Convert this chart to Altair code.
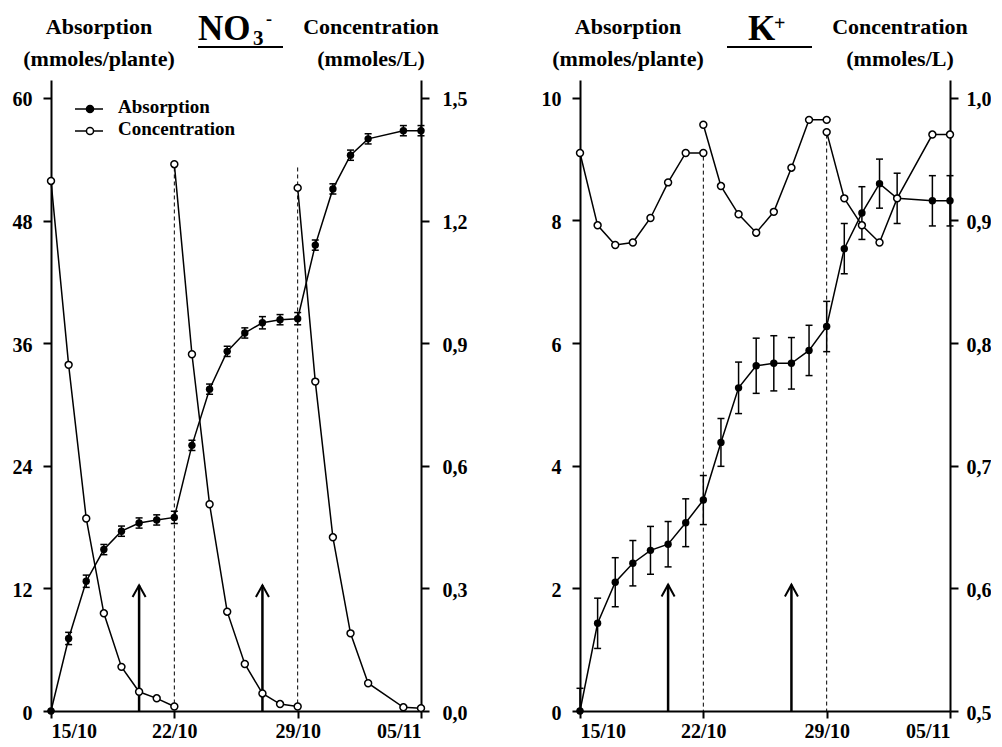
import altair as alt
import pandas as pd

FONT = "Liberation Serif"

# ---------------- data ----------------
days = [0, 1, 2, 3, 4, 5, 6, 7, 8, 9, 10, 11, 12, 13, 14, 15, 16, 17, 18, 20, 21]
date_tick_values = [0, 7, 14, 21]
date_tick_labels = ["15/10", "22/10", "29/10", "05/11"]

conc_days = [0, 1, 2, 3, 4, 5, 6, 7,
             7, 8, 9, 10, 11, 12, 13, 14,
             14, 15, 16, 17, 18, 20, 21]
conc_cycle = [1] * 8 + [2] * 8 + [3] * 7

no3_absorption = [0, 7.1, 12.7, 15.8, 17.6, 18.4, 18.7, 18.95, 26.0, 31.5, 35.2,
                  37.0, 38.0, 38.3, 38.4, 45.6, 51.1, 54.4, 56.0, 56.8, 56.8]
no3_abs_err = [0, 0.6, 0.6, 0.5, 0.5, 0.5, 0.5, 0.6, 0.5, 0.5, 0.5,
               0.5, 0.6, 0.5, 0.6, 0.5, 0.5, 0.5, 0.5, 0.5, 0.5]
no3_concentration = [1.297, 0.847, 0.471, 0.239, 0.108, 0.047, 0.031, 0.011,
                     1.338, 0.873, 0.506, 0.243, 0.115, 0.043, 0.017, 0.011,
                     1.28, 0.806, 0.425, 0.19, 0.068, 0.009, 0.007]

k_absorption = [0, 1.43, 2.10, 2.41, 2.62, 2.72, 3.07, 3.44, 4.38, 5.27, 5.63,
                5.67, 5.67, 5.88, 6.27, 7.54, 8.12, 8.60, 8.36, 8.32, 8.32]
k_abs_err = [0.37, 0.41, 0.40, 0.37, 0.39, 0.37, 0.39, 0.40, 0.39, 0.42, 0.45,
             0.45, 0.42, 0.41, 0.41, 0.41, 0.43, 0.40, 0.41, 0.41, 0.41]
k_concentration = [0.955, 0.896, 0.880, 0.882, 0.902, 0.931, 0.955, 0.955,
                   0.978, 0.928, 0.905, 0.890, 0.907, 0.943, 0.982, 0.982,
                   0.972, 0.918, 0.896, 0.882, 0.918, 0.970, 0.970]

renewal_days = [7, 14]
no3_renewal_top = [53.2, 53.2]
k_renewal_top = [9.04, 9.40]
arrow_days = [5, 12]
no3_arrow_top = [12.3, 12.3]
k_arrow_top = [2.06, 2.06]

no3_left_ticks = [0, 12, 24, 36, 48, 60]
no3_left_labels = ["0", "12", "24", "36", "48", "60"]
no3_right_ticks = [0.0, 0.3, 0.6, 0.9, 1.2, 1.5]
no3_right_labels = ["0,0", "0,3", "0,6", "0,9", "1,2", "1,5"]
k_left_ticks = [0, 2, 4, 6, 8, 10]
k_left_labels = ["0", "2", "4", "6", "8", "10"]
k_right_ticks = [0.5, 0.6, 0.7, 0.8, 0.9, 1.0]
k_right_labels = ["0,5", "0,6", "0,7", "0,8", "0,9", "1,0"]

W, H = 370, 631


def label_expr(values, labels):
    expr = "''"
    for v, l in reversed(list(zip(values, labels))):
        expr = f"abs(datum.value - {v}) < 1e-6 ? '{l}' : ({expr})"
    return expr


def panel(abs_vals, abs_err, conc_vals, left_dom, left_ticks, left_labels,
          right_dom, right_ticks, right_labels, renew_top, arrow_top,
          ion_layers, legend, right_pad):
    df_abs = pd.DataFrame({"day": days, "v": abs_vals, "e": abs_err})
    df_abs["lo"] = (df_abs["v"] - df_abs["e"]).clip(lower=left_dom[0])
    df_abs["hi"] = df_abs["v"] + df_abs["e"]
    df_conc = pd.DataFrame({"day": conc_days, "c": conc_vals, "cycle": conc_cycle})
    df_ren = pd.DataFrame({"day": renewal_days, "top": renew_top})
    df_arr = pd.DataFrame({"day": arrow_days, "top": arrow_top})

    xs = alt.Scale(domain=[0, 21], nice=False, zero=False)
    x_axis = alt.Axis(values=date_tick_values,
                      labelExpr=label_expr(date_tick_values, date_tick_labels),
                      title=None, tickSize=7, labelPadding=3, orient="bottom")
    X = lambda: alt.X("day:Q", scale=xs, axis=x_axis, title=None)
    ysL = alt.Scale(domain=left_dom, nice=False, zero=False)
    ysR = alt.Scale(domain=right_dom, nice=False, zero=False)
    left_axis = alt.Axis(values=left_ticks, labelExpr=label_expr(left_ticks, left_labels),
                         title=None, orient="left", tickSize=8, labelPadding=11,
                         labelOffset=2)
    right_axis = alt.Axis(values=right_ticks, labelExpr=label_expr(right_ticks, right_labels),
                          title=None, orient="right", tickSize=8, labelPadding=right_pad,
                          labelOffset=2)
    YL = lambda f: alt.Y(f, type="quantitative", scale=ysL, axis=left_axis, title=None)
    YR = lambda f: alt.Y(f, type="quantitative", scale=ysR, axis=right_axis, title=None)

    base0 = left_dom[0]
    dashed = alt.Chart(df_ren).mark_rule(color="black", strokeWidth=1,
                                         strokeDash=[4, 3]).encode(
        x=X(), y=YL("top"), y2=alt.datum(base0))
    arrows = alt.Chart(df_arr).mark_rule(color="black", strokeWidth=2.5).encode(
        x=X(), y=YL("top"), y2=alt.datum(base0))
    heads = alt.Chart(df_arr).mark_point(shape="M-1,1.8L0,0L1,1.8", filled=False,
                                         size=170, strokeWidth=2, color="black",
                                         opacity=1).encode(
        x=X(), y=YL("top"))
    err = alt.Chart(df_abs).mark_rule(color="black", strokeWidth=1.5).encode(
        x=X(), y=YL("lo"), y2="hi:Q")
    cap_hi = alt.Chart(df_abs).mark_rule(color="black", strokeWidth=1.5,
                                         xOffset=-3.5, x2Offset=3.5).encode(
        x=X(), x2="day:Q", y=YL("hi"))
    cap_lo = alt.Chart(df_abs).mark_rule(color="black", strokeWidth=1.5,
                                         xOffset=-3.5, x2Offset=3.5).encode(
        x=X(), x2="day:Q", y=YL("lo"))
    abs_line = alt.Chart(df_abs).mark_line(color="black", strokeWidth=1.5).encode(
        x=X(), y=YL("v"))
    abs_pts = alt.Chart(df_abs).mark_circle(color="black", size=55, opacity=1).encode(
        x=X(), y=YL("v"))
    left_group = alt.layer(dashed, arrows, heads, err, cap_hi, cap_lo, abs_line, abs_pts)

    conc_line = alt.Chart(df_conc).mark_line(color="black", strokeWidth=1.5).encode(
        x=X(), y=YR("c"), detail="cycle:N")
    conc_pts = alt.Chart(df_conc).mark_point(shape="circle", filled=True, fill="white",
                                             stroke="black", strokeWidth=1.5, size=48,
                                             opacity=1).encode(
        x=X(), y=YR("c"))
    right_group = alt.layer(conc_line, conc_pts)

    one = pd.DataFrame({"k": [0]})

    def txt(s, x, y, size, align="center", baseline="alphabetic"):
        return alt.Chart(one).mark_text(font=FONT, fontWeight="bold", fontSize=size,
                                        align=align, baseline=baseline,
                                        color="black").encode(
            x=alt.value(x), y=alt.value(y), text=alt.value(s))

    ann = [
        txt("Absorption", 48, -46, 22),
        txt("(mmoles/plante)", 48, -14, 22),
        txt("Concentration", 320, -46, 22),
        txt("(mmoles/L)", 320, -14, 22),
        alt.Chart(one).mark_rule(color="black", strokeWidth=2).encode(
            x=alt.value(147), x2=alt.value(232), y=alt.value(-33)),
    ]
    for (s, x, y, size) in ion_layers:
        ann.append(txt(s, x, y, size, align="left"))
    if legend:
        for yy, filled, label in [(29, True, "Absorption"), (51, False, "Concentration")]:
            ann.append(alt.Chart(one).mark_rule(color="black", strokeWidth=1.5).encode(
                x=alt.value(24), x2=alt.value(52), y=alt.value(yy)))
            ann.append(alt.Chart(one).mark_point(
                shape="circle", filled=True, fill="black" if filled else "white",
                stroke="black", strokeWidth=1.5, size=50, opacity=1).encode(
                x=alt.value(39), y=alt.value(yy)))
            ann.append(txt(label, 67, yy - 2, 19, align="left", baseline="middle"))

    return alt.layer(left_group, right_group, *ann).resolve_scale(
        y="independent").properties(width=W, height=H)


no3_ion = [("NO", 147, -40, 35), ("3", 202, -35, 21), ("-", 215, -55, 18)]
k_ion = [("K", 168, -40, 35), ("+", 194, -50, 20)]

left_panel = panel(no3_absorption, no3_abs_err, no3_concentration,
                   [0, 61.76], no3_left_ticks, no3_left_labels,
                   [0, 1.544], no3_right_ticks, no3_right_labels,
                   no3_renewal_top, no3_arrow_top, no3_ion, True, 13)
right_panel = panel(k_absorption, k_abs_err, k_concentration,
                    [0, 10.29], k_left_ticks, k_left_labels,
                    [0.5, 1.0145], k_right_ticks, k_right_labels,
                    k_renewal_top, k_arrow_top, k_ion, False, 8)

chart = alt.hconcat(left_panel, right_panel, spacing=74).properties(
    padding={"left": 4, "top": 3, "right": 0, "bottom": 0},
    background="white",
).configure_view(strokeWidth=0).configure_axis(
    grid=False, domainColor="black", tickColor="black", domainWidth=2, tickWidth=2,
    labelFont=FONT, labelFontWeight="bold", labelFontSize=20, labelColor="black"
)

chart.save("out.html", embed_options={"renderer": "svg", "actions": False})
